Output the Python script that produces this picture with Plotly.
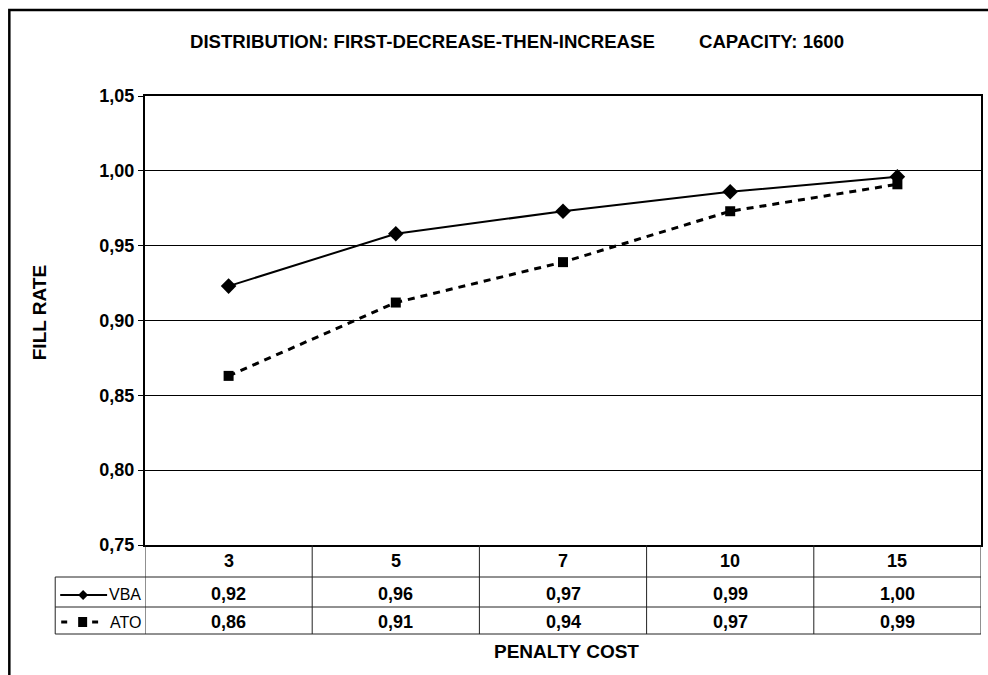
import plotly.graph_objects as go

categories = ["3", "5", "7", "10", "15"]
vba = [0.923, 0.958, 0.973, 0.986, 0.996]
ato = [0.863, 0.912, 0.939, 0.973, 0.991]
vba_labels = ["0,92", "0,96", "0,97", "0,99", "1,00"]
ato_labels = ["0,86", "0,91", "0,94", "0,97", "0,99"]
y_ticks = [0.75, 0.80, 0.85, 0.90, 0.95, 1.00, 1.05]

W, H = 988, 675
L, R, T, B = 145, 5, 96, 130
PW, PH = W - L - R, H - T - B

def py(p):
    return (H - B - p) / PH

def px(p):
    return (p - L) / PW

FONT = "Liberation Sans, Arial, sans-serif"
NUM = dict(family=FONT, size=18, color="black", weight="bold")
TXT = dict(family=FONT, size=19, color="black", weight="bold")
TITLE = dict(family=FONT, size=18.6, color="black", weight="bold")
REG = dict(family=FONT, size=16, color="black")

fig = go.Figure()
fig.add_trace(go.Scatter(
    x=categories, y=vba, mode="lines+markers", name="VBA",
    line=dict(color="black", width=2),
    marker=dict(symbol="diamond", size=12, color="black"),
))
fig.add_trace(go.Scatter(
    x=categories, y=ato, mode="lines+markers", name="ATO",
    line=dict(color="black", width=3, dash="7px,6px"),
    marker=dict(symbol="square", size=10, color="black"),
))

shapes = []
ann = []
line_c = "#222"
for yy in [577, 607, 634]:
    shapes.append(dict(type="line", xref="paper", yref="paper",
                       x0=px(55), x1=1, y0=py(yy), y1=py(yy),
                       line=dict(color=line_c, width=1)))
for i in range(len(categories) + 1):
    shapes.append(dict(type="line", xref="x", yref="paper",
                       x0=i - 0.5, x1=i - 0.5, y0=0, y1=py(634),
                       line=dict(color=line_c, width=1)))
shapes.append(dict(type="line", xref="paper", yref="paper",
                   x0=px(55), x1=px(55), y0=py(577), y1=py(634),
                   line=dict(color=line_c, width=1)))
shapes.append(dict(type="rect", xref="paper", yref="paper",
                   x0=px(9), x1=px(1000), y0=py(690), y1=py(10),
                   line=dict(color="black", width=2.5)))
# legend keys in table
shapes.append(dict(type="line", xref="paper", yref="paper",
                   x0=px(60), x1=px(107), y0=py(595), y1=py(595),
                   line=dict(color="black", width=2)))
cx, cy = 83, 595
shapes.append(dict(type="path", xref="paper", yref="paper",
                   path=f"M {px(cx-5)} {py(cy)} L {px(cx)} {py(cy-5)} L {px(cx+5)} {py(cy)} L {px(cx)} {py(cy+5)} Z",
                   fillcolor="black", line=dict(color="black", width=0)))
for x0, x1 in [(61, 67), (92, 98)]:
    shapes.append(dict(type="line", xref="paper", yref="paper",
                       x0=px(x0), x1=px(x1), y0=py(622), y1=py(622),
                       line=dict(color="black", width=3)))
shapes.append(dict(type="rect", xref="paper", yref="paper",
                   x0=px(78), x1=px(87), y0=py(627), y1=py(617),
                   fillcolor="black", line=dict(color="black", width=0)))

for i, c in enumerate(categories):
    ann.append(dict(x=i, y=py(561), xref="x", yref="paper", text=c,
                    xanchor="center", yanchor="middle", showarrow=False, font=NUM))
    ann.append(dict(x=i, y=py(594), xref="x", yref="paper", text=vba_labels[i],
                    xanchor="center", yanchor="middle", showarrow=False, font=NUM))
    ann.append(dict(x=i, y=py(622), xref="x", yref="paper", text=ato_labels[i],
                    xanchor="center", yanchor="middle", showarrow=False, font=NUM))
ann.append(dict(x=px(143), y=py(594), xref="paper", yref="paper", text="VBA",
                xanchor="right", yanchor="middle", showarrow=False, font=REG))
ann.append(dict(x=px(143), y=py(622), xref="paper", yref="paper", text="ATO",
                xanchor="right", yanchor="middle", showarrow=False, font=REG))
ann.append(dict(x=px(568), y=py(651), xref="paper", yref="paper", text="PENALTY COST",
                xanchor="center", yanchor="middle", showarrow=False, font=TXT))
ann.append(dict(x=px(39), y=py(313), xref="paper", yref="paper", text="FILL RATE",
                xanchor="center", yanchor="middle", textangle=-90, showarrow=False, font=TXT))
ann.append(dict(x=px(188), y=py(42), xref="paper", yref="paper",
                text="DISTRIBUTION: FIRST-DECREASE-THEN-INCREASE",
                xanchor="left", yanchor="middle", showarrow=False, font=TITLE))
ann.append(dict(x=px(848), y=py(42), xref="paper", yref="paper",
                text="CAPACITY: 1600", xanchor="right", yanchor="middle",
                showarrow=False, font=TITLE))

fig.update_layout(
    width=W, height=H,
    margin=dict(l=L, r=R, t=T, b=B, pad=0),
    paper_bgcolor="white", plot_bgcolor="white",
    separators=",.",
    showlegend=False,
    shapes=shapes, annotations=ann,
    font=dict(family=FONT, color="black"),
)
fig.update_xaxes(type="category", range=[-0.5, 4.5], showticklabels=False,
                 showgrid=False, showline=True, linecolor="black", linewidth=2,
                 mirror=True, ticks="", zeroline=False)
fig.update_yaxes(range=[0.75, 1.05], tickvals=y_ticks, tickformat=".2f",
                 showgrid=True, gridcolor="black", gridwidth=1,
                 showline=True, linecolor="black", linewidth=2, mirror=True,
                 ticks="outside", ticklen=5, tickcolor="black", zeroline=False,
                 tickfont=NUM)

fig.write_html("out.html")
